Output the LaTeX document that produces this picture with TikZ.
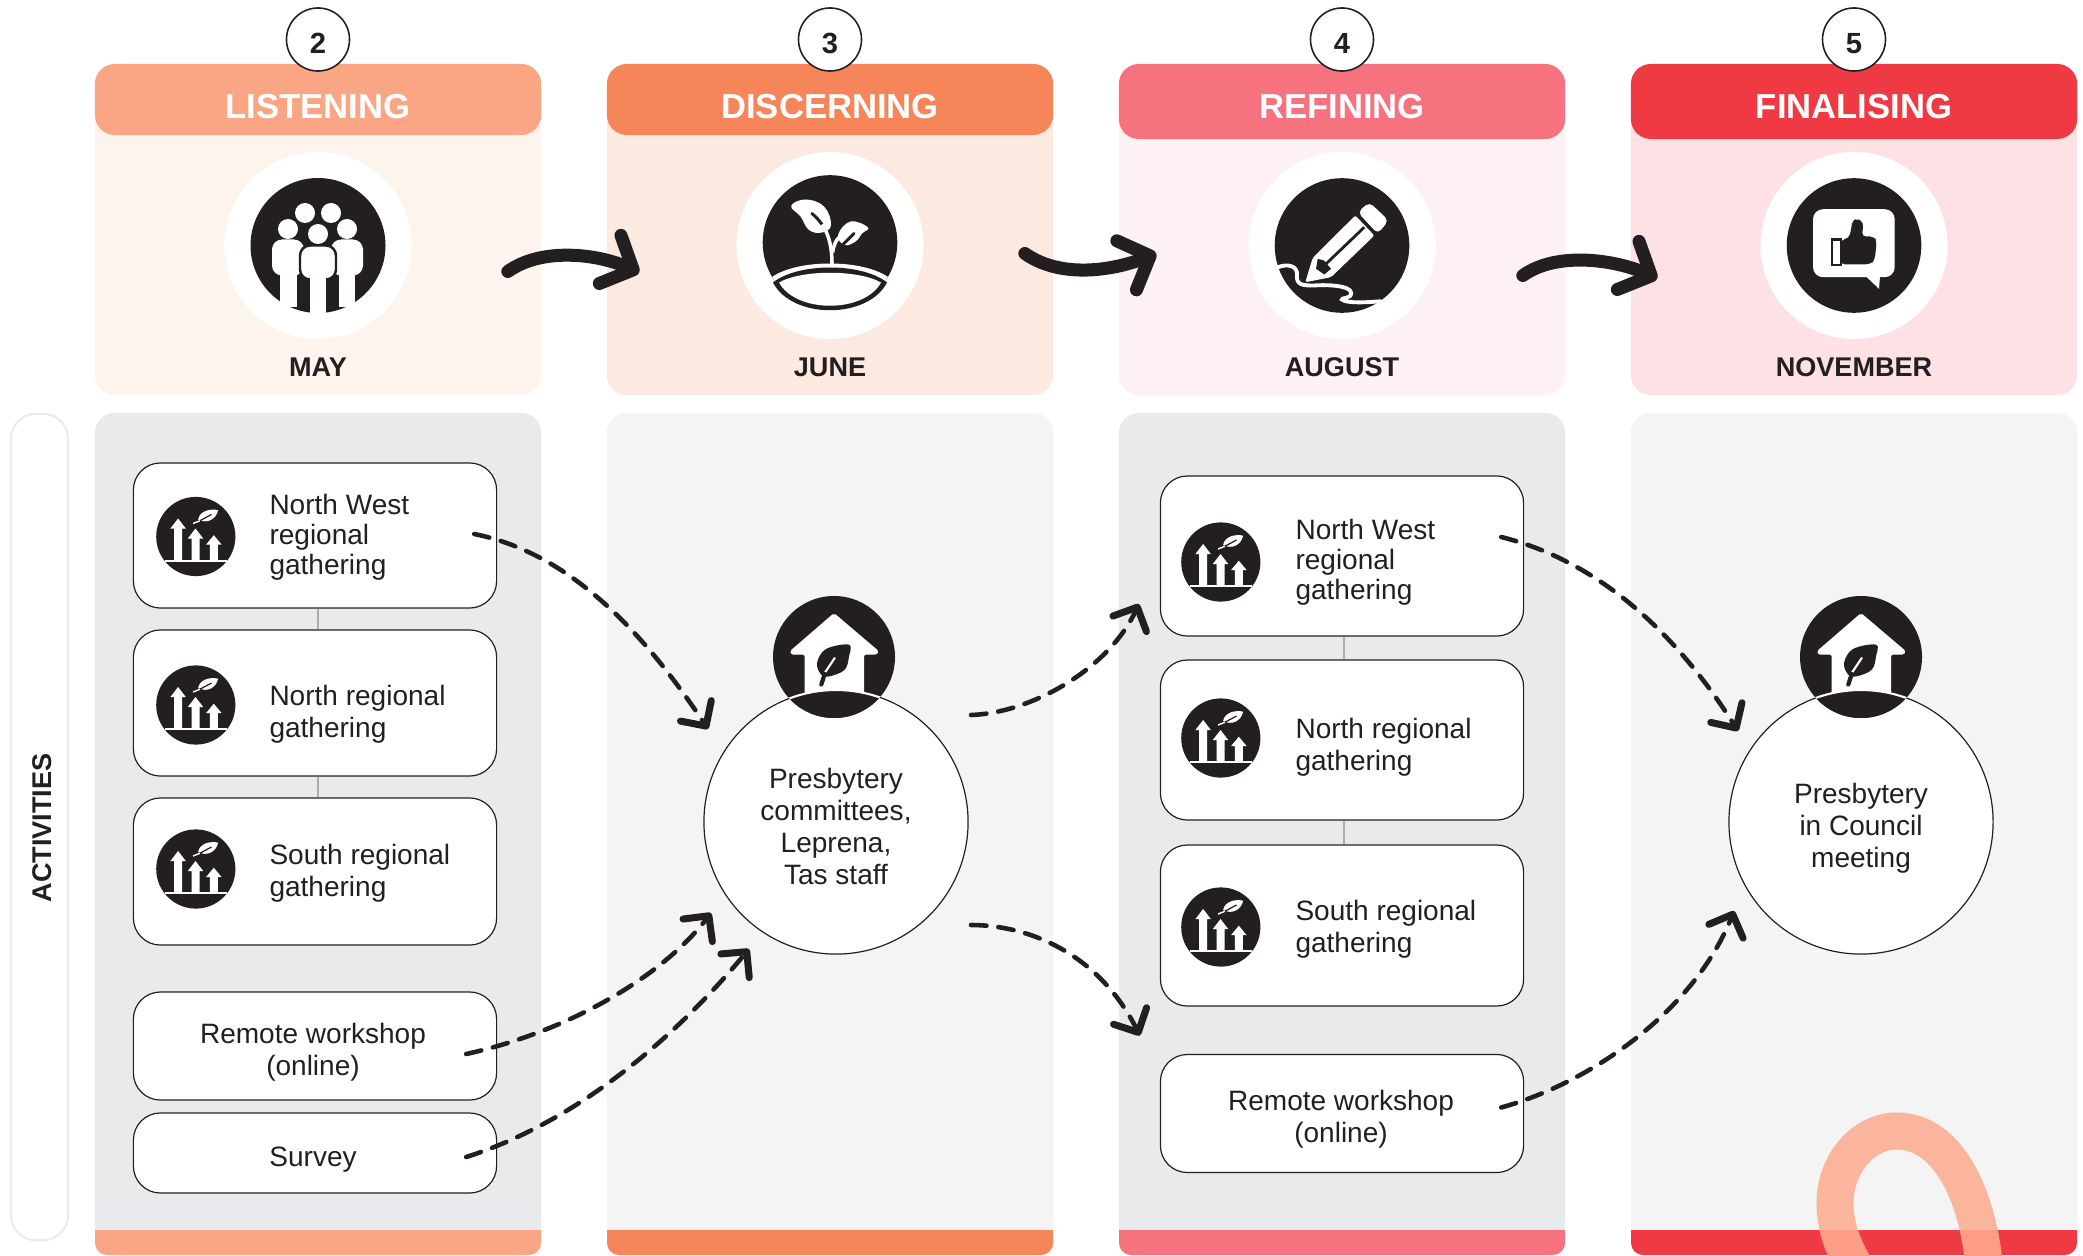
\documentclass[tikz,border=0pt]{standalone}
\usepackage{fontspec}
\setmainfont{Liberation Sans}
\usetikzlibrary{arrows.meta, calc}

\definecolor{inkblack}{HTML}{231F20}
\definecolor{headone}{HTML}{FAA685}
\definecolor{headtwo}{HTML}{F6865A}
\definecolor{headthree}{HTML}{F5727E}
\definecolor{headfour}{HTML}{EF3A44}
\definecolor{paneone}{HTML}{FEF4EE}
\definecolor{panetwo}{HTML}{FCE9DF}
\definecolor{panethree}{HTML}{FDF1F3}
\definecolor{panefour}{HTML}{FDE1E5}
\definecolor{graydark}{HTML}{E9EAEC}
\definecolor{graylight}{HTML}{F4F4F4}

\tikzset{
    panel/.style={rectangle, rounded corners=2mm, minimum width=4.46cm, inner sep=0pt},
    headtext/.style={text=white, font=\fontsize{9.85}{11}\selectfont\bfseries, inner sep=0pt},
    monthtext/.style={text=inkblack, font=\fontsize{7.7}{9}\selectfont\bfseries, inner sep=0pt},
    numcircle/.style={circle, draw=inkblack, fill=white, line width=0.45pt, minimum size=0.63cm, inner sep=0pt,
        text height=0.27cm, text depth=0pt, text=inkblack, font=\fontsize{8.3}{10}\selectfont\bfseries},
    whitedisc/.style={circle, fill=white, minimum size=1.87cm, inner sep=0pt},
    gatherbox/.style={rectangle, draw=inkblack, fill=white, line width=0.34pt, rounded corners=2.7mm,
        minimum width=3.63cm, inner sep=0pt},
    boxtext/.style={text=inkblack, align=left, anchor=west, inner sep=0pt, font=\fontsize{7.97}{9.1}\selectfont},
    tighttext/.style={boxtext, font=\fontsize{7.97}{8.55}\selectfont},
    midtext/.style={text=inkblack, align=center, inner sep=0pt, font=\fontsize{7.97}{9.1}\selectfont},
    bigcircle/.style={circle, draw=inkblack, fill=white, line width=0.34pt, minimum size=2.64cm, inner sep=0pt},
    linkline/.style={draw=black!32, line width=0.7pt},
    bigarrow/.style={draw=inkblack, line width=3.7pt, line cap=round,
        -{Straight Barb[round, length=7.2pt, width=15pt, line width=3.7pt]}},
    dasharrow/.style={draw=inkblack, line width=1.3pt, line cap=round, dash pattern=on 4.4pt off 3.4pt,
        -{Straight Barb[round, length=5.2pt, width=10.5pt, line width=2pt]}},
    pics/peopleicon/.style={code={
        \fill[inkblack] (0,0) circle (67.5);
        % heads
        \fill[white] (-13,-32.5) circle (10);
        \fill[white] (13,-32.5) circle (10);
        \fill[white] (-30,-16.5) circle (10);
        \fill[white] (29,-16.5) circle (10);
        \fill[white] (0,-11.5) circle (10);
        % outer figures
        \fill[white, rounded corners=1mm] (-46,-6) rectangle (-14,30);
        \fill[white] (-38,25) rectangle (-21,62);
        \fill[white, rounded corners=1mm] (45,-6) rectangle (13,30);
        \fill[white] (21,25) rectangle (37,62);
        % middle figure
        \filldraw[fill=white, draw=inkblack, line width=0.7pt, rounded corners=1mm] (-18,0) rectangle (18,34);
        \fill[white] (-8.5,28) rectangle (8,70);
    }},
    pics/planticon/.style={code={
        \fill[inkblack] (0,0) circle (67.3);
        % leaves and stem
        \fill[white] plot[smooth cycle, tension=0.7] coordinates {(-38.8,-36.5) (-24.5,-43) (-6,-36) (1,-17.5) (-8,-10) (-21,-12.5) (-29.5,-26)};
        \fill[white] plot[smooth cycle, tension=0.7] coordinates {(38,-15) (20.5,-21) (8,-7.5) (14.5,2.5) (25.5,-1) (32,-9)};
        \draw[inkblack, line width=0.85pt, line cap=round] (-18,-29) .. controls (-10,-22) and (-6,-16) .. (-3,-8);
        \draw[inkblack, line width=0.85pt, line cap=round] (24,-9) -- (13,2);
        \draw[white, line width=1pt] (-8,-18) .. controls (-1,-8) and (2,5) .. (2,21.5);
        \draw[white, line width=1pt] (2.5,10) .. controls (4,2) and (6,-3) .. (10,-6);
        % ground
        \begin{scope}
            \clip (0,0) circle (67.3);
            \fill[white] (-75,42) -- (-60,36) .. controls (-35,16) and (35,16) .. (60,36) -- (75,42) -- (75,80) -- (-75,80) -- cycle;
        \end{scope}
        \fill[inkblack] (-57,40) .. controls (-32,20) and (32,20) .. (57,40) .. controls (38,77) and (-38,77) .. cycle;
        \fill[white] (-51,40) .. controls (-28,27) and (28,27) .. (51,40) .. controls (34,71) and (-34,71) .. cycle;
    }},
    pics/pencilicon/.style={code={
        \fill[inkblack] (0,0) circle (67.3);
        % eraser and body
        \fill[white, rounded corners=0.5mm] (15.7,-33.3) -- (27.3,-43.3) -- (46.7,-25) -- (35.7,-11.7) -- cycle;
        \fill[white, rounded corners=0.2mm] (13.3,-30) -- (32.3,-10) -- (-11,31.7) -- (-36.7,36.7) -- (-29.3,12.3) -- cycle;
        \draw[inkblack, line width=0.8pt] (22.3,-18.3) -- (-17.7,20);
        \fill[inkblack] (-24.3,13.3) -- (-18,15) -- (-11,23.3) -- (-17.7,29) -- (-26,23.3) -- cycle;
        % scribble
        \draw[white, line width=1.1pt, line cap=round] (-64,21.7) .. controls (-55,18) and (-44,20) .. (-45,30) .. controls (-46,40) and (-38,40) .. (-28,40) .. controls (-15,39) and (8,40) .. (9,47) .. controls (10,54) and (-2,52) .. (0,54) .. controls (4,58) and (25,57) .. (39,55.7);
    }},
    pics/thumbicon/.style={code={
        \fill[inkblack] (0,0) circle (67.3);
        % bubble
        \fill[white, rounded corners=1mm] (-41,-36.3) rectangle (40.7,31.7);
        \fill[white] (11,30) -- (25,43.3) -- (26,30) -- cycle;
        % hand
        \fill[inkblack] (-22.7,-7.3) rectangle (-12.3,21);
        \fill[white] (-20.7,-4) rectangle (-14.5,18.7);
        \fill[inkblack, rounded corners=0.4mm] (-13,-5.7) -- (-5,-7.3) -- (-2.3,-19) -- (-2,-25) -- (2.7,-26.5) -- (8,-25) -- (9.3,-19) -- (7.7,-9) -- (20,-9) -- (22.7,-4) -- (20.7,14.3) -- (16.7,18.7) -- (-13,19) -- cycle;
    }},
    pics/growthicon/.style={code={
        \fill[inkblack] (0,0) circle (39.6);
        \draw[white, line width=0.6pt] (-31,24.3) -- (31,24.3);
        % three arrows
        \fill[white] (-17.7,-18) -- (-10,-8) -- (-13.7,-8) -- (-13.7,24) -- (-21.7,24) -- (-21.7,-8) -- (-25.4,-8) -- cycle;
        \fill[white] (-0.3,-8) -- (7.4,2) -- (3.7,2) -- (3.7,24) -- (-4.3,24) -- (-4.3,2) -- (-8,2) -- cycle;
        \fill[white] (18,-1.3) -- (25.7,8) -- (22,8) -- (22,24) -- (14,24) -- (14,8) -- (10.3,8) -- cycle;
        % leaf
        \fill[white] (2.3,-17) .. controls (4,-26.3) and (15.7,-28) .. (22.3,-26.3) .. controls (20.7,-18) and (12,-12) .. cycle;
        \draw[inkblack, line width=0.35pt] (4,-15.7) -- (15.7,-22);
        \draw[white, line width=0.4pt] (-2.7,-13) -- (4,-15.7);
    }},
    pics/houseicon/.style={code={
        \fill[inkblack] (0,0) circle (61);
        % house and leaf
        \fill[white, rounded corners=0.2mm] (0,-44) -- (45,-5.7) -- (43,-2.3) -- (30,-2.3) -- (30,45) -- (-29.3,45) -- (-29.3,-2.3) -- (-43,-2.3) -- (-44.3,-5.7) -- cycle;
        \fill[inkblack] plot[smooth cycle, tension=0.6] coordinates {(15,-12.3) (-8,-8) (-17,6) (-12.7,17.7) (-4.3,19.3) (10.7,12.7) (15,-0.7)};
        \draw[white, line width=0.6pt, line cap=round] (0.7,1) -- (-9.3,16);
        \draw[inkblack, line width=1.2pt, line cap=round] (-9.3,17) -- (-12.7,27.5);
        % part of the disc inside the big circle
        \begin{scope}
            \clip (0,0) circle (61);
            \fill[inkblack] (#1,165) circle (132);
            \draw[white, line width=0.6pt] (#1,165) circle (132);
        \end{scope}
    }},
}

\begin{document}
\begin{tikzpicture}[x=0.01cm, y=-0.01cm]
    \useasboundingbox (0,0) rectangle (2083,1255);

    % Top panels
    \node[panel, fill=paneone, minimum height=3.31cm] (listenpanel) at (318,229.5) {};
    \node[panel, fill=panetwo, minimum height=3.31cm] (discernpanel) at (830,229.5) {};
    \node[panel, fill=panethree, minimum height=3.31cm] (refinepanel) at (1342,229.5) {};
    \node[panel, fill=panefour, minimum height=3.31cm] (finalpanel) at (1854,229.5) {};

    % Headers
    \node[panel, fill=headone, minimum height=0.71cm] (listenhead) at (318,99.5) {};
    \node[panel, fill=headtwo, minimum height=0.71cm] (discernhead) at (830,99.5) {};
    \node[panel, fill=headthree, minimum height=0.75cm] (refinehead) at (1342,101.5) {};
    \node[panel, fill=headfour, minimum height=0.75cm] (finalhead) at (1854,101.5) {};
    \node[headtext] (listentext) at ([shift={(0,7)}]listenhead.center) {LISTENING};
    \node[headtext] (discerntext) at ([shift={(0,7)}]discernhead.center) {DISCERNING};
    \node[headtext] (refinetext) at ([shift={(0,5)}]refinehead.center) {REFINING};
    \node[headtext] (finaltext) at ([shift={(0,5)}]finalhead.center) {FINALISING};

    % Step numbers
    \node[numcircle] (numtwo) at (318,39.5) {2};
    \node[numcircle] (numthree) at (830,39.5) {3};
    \node[numcircle] (numfour) at (1342,39.5) {4};
    \node[numcircle] (numfive) at (1854,39.5) {5};

    % Icon discs
    \node[whitedisc] (listendisc) at (318,245.5) {};
    \node[whitedisc] (discerndisc) at (830,245.5) {};
    \node[whitedisc] (refinedisc) at (1342,245.5) {};
    \node[whitedisc] (finaldisc) at (1854,245.5) {};
    \pic at (listendisc.center) {peopleicon};
    \pic at ([shift={(0,-3)}]discerndisc.center) {planticon};
    \pic at (refinedisc.center) {pencilicon};
    \pic at (finaldisc.center) {thumbicon};

    % Months
    \node[monthtext] (maytext) at (318,367) {MAY};
    \node[monthtext] (junetext) at (830,367) {JUNE};
    \node[monthtext] (augusttext) at (1342,367) {AUGUST};
    \node[monthtext] (novembertext) at (1854,367) {NOVEMBER};

    % Thick arrows between the panels
    \draw[bigarrow] ([shift={(-34,42)}]listenpanel.east) .. controls +(35,-25) and +(-40,-18) .. ([shift={(33,43)}]discernpanel.west);
    \draw[bigarrow] ([shift={(-29,24)}]discernpanel.east) .. controls +(40,28) and +(-35,14) .. ([shift={(38,24)}]refinepanel.west);
    \draw[bigarrow] ([shift={(-43,46)}]refinepanel.east) .. controls +(35,-25) and +(-40,-18) .. ([shift={(27,49)}]finalpanel.west);

    % Activity side label
    \node[rectangle, draw=black!8, fill=white, line width=0.6pt, rounded corners=2.5mm, minimum width=0.57cm, minimum height=8.26cm, inner sep=0pt] (sidebox) at (39.5,827) {};
    \node[rotate=90, text=inkblack, inner sep=0pt, font=\fontsize{7.7}{9}\selectfont\bfseries] (sidetext) at (42,828) {ACTIVITIES};

    % Lower panels
    \node[panel, fill=graydark, minimum height=8.42cm] (listenlow) at (318,834) {};
    \node[panel, fill=graylight, minimum height=8.42cm] (discernlow) at (830,834) {};
    \node[panel, fill=graydark, minimum height=8.42cm] (refinelow) at (1342,834) {};
    \node[panel, fill=graylight, minimum height=8.42cm] (finallow) at (1854,834) {};

    % Coloured bars
    \fill[headone] (95,1230) [rounded corners=1.2mm] -- (95,1255) -- (541,1255) [sharp corners] -- (541,1230) -- cycle;
    \fill[headtwo] (607,1230) [rounded corners=1.2mm] -- (607,1255) -- (1053,1255) [sharp corners] -- (1053,1230) -- cycle;
    \fill[headthree] (1119,1230) [rounded corners=1.2mm] -- (1119,1255) -- (1565,1255) [sharp corners] -- (1565,1230) -- cycle;
    \fill[headfour] (1631,1230) [rounded corners=1.2mm] -- (1631,1255) -- (2077,1255) [sharp corners] -- (2077,1230) -- cycle;

    % Loop in the corner
    \draw[color={rgb,255:red,250;green,181;blue,156}, line width=0.37cm] (1872,1290) .. controls (1846,1260) and (1835,1230) .. (1835,1203) .. controls (1835,1165) and (1862,1131) .. (1897,1131) .. controls (1955,1131) and (1985,1215) .. (1985,1290);
    \begin{scope}
        \clip (1631,1230) rectangle (2077,1255);
        \draw[color={rgb,255:red,255;green,158;blue,133}, line width=0.37cm] (1872,1290) .. controls (1846,1260) and (1835,1230) .. (1835,1203) .. controls (1835,1165) and (1862,1131) .. (1897,1131) .. controls (1955,1131) and (1985,1215) .. (1985,1290);
    \end{scope}

    % Gatherings, first column
    \node[gatherbox, minimum height=1.45cm] (nwone) at (315,535.5) {};
    \node[gatherbox, minimum height=1.46cm] (northone) at (315,703) {};
    \node[gatherbox, minimum height=1.47cm] (southone) at (315,871.5) {};
    \node[gatherbox, minimum height=1.08cm] (remoteone) at (315,1046) {};
    \node[gatherbox, minimum height=0.80cm] (surveyone) at (315,1153) {};
    \draw[linkline] ([shift={(3,0)}]nwone.south) -- ([shift={(3,0)}]northone.north);
    \draw[linkline] ([shift={(3,0)}]northone.south) -- ([shift={(3,0)}]southone.north);
    \pic at ([shift={(63,1)}]nwone.west) {growthicon};
    \pic at ([shift={(63,2)}]northone.west) {growthicon};
    \pic at ([shift={(63,-2.5)}]southone.west) {growthicon};
    \node[tighttext] (nwonetext) at ([shift={(136,2)}]nwone.west) {North West\\regional\\gathering};
    \node[boxtext] (northonetext) at ([shift={(136,11)}]northone.west) {North regional\\gathering};
    \node[boxtext] (southonetext) at ([shift={(136,1.5)}]southone.west) {South regional\\gathering};
    \node[midtext] (remoteonetext) at ([shift={(-2,6)}]remoteone.center) {Remote workshop\\(online)};
    \node[midtext] (surveyonetext) at ([shift={(-2,6.5)}]surveyone.center) {Survey};

    % Gatherings, third column
    \node[gatherbox, minimum height=1.60cm] (nwthree) at (1342,556) {};
    \node[gatherbox, minimum height=1.60cm] (norththree) at (1342,740) {};
    \node[gatherbox, minimum height=1.61cm] (souththree) at (1342,925.5) {};
    \node[gatherbox, minimum height=1.18cm] (remotethree) at (1342,1113.5) {};
    \draw[linkline] ([shift={(2,0)}]nwthree.south) -- ([shift={(2,0)}]norththree.north);
    \draw[linkline] ([shift={(2,0)}]norththree.south) -- ([shift={(2,0)}]souththree.north);
    \pic at ([shift={(61,6)}]nwthree.west) {growthicon};
    \pic at ([shift={(61,-2)}]norththree.west) {growthicon};
    \pic at ([shift={(61,1.5)}]souththree.west) {growthicon};
    \node[tighttext] (nwthreetext) at ([shift={(135,6.5)}]nwthree.west) {North West\\regional\\gathering};
    \node[boxtext] (norththreetext) at ([shift={(135,7.5)}]norththree.west) {North regional\\gathering};
    \node[boxtext] (souththreetext) at ([shift={(135,3.5)}]souththree.west) {South regional\\gathering};
    \node[midtext] (remotethreetext) at ([shift={(-1,5.5)}]remotethree.center) {Remote workshop\\(online)};

    % Big circles
    \node[bigcircle] (committees) at (836,822) {};
    \node[midtext] (committeestext) at (836,826) {Presbytery\\committees,\\Leprena,\\Tas staff};
    \pic at ([shift={(-2,-165)}]committees.center) {houseicon=2};
    \node[bigcircle] (council) at (1861,822) {};
    \node[midtext] (counciltext) at (1861,828.5) {Presbytery\\in Council\\meeting};
    \pic at ([shift={(0,-165)}]council.center) {houseicon=0};

    % Dashed arrows
    \draw[dasharrow] ([shift={(-23,-1.5)}]nwone.east) .. controls +(100,20) and +(-60,-90) .. ([shift={(-128,-93)}]committees.center);
    \draw[dasharrow] ([shift={(-31,8)}]remoteone.east) .. controls +(100,-22) and +(-50,65) .. ([shift={(-125,91)}]committees.center);
    \draw[dasharrow] ([shift={(-31,4)}]surveyone.east) .. controls +(110,-35) and +(-75,90) .. ([shift={(-87,127)}]committees.center);
    \draw[dasharrow] ([shift={(135,-107)}]committees.center) .. controls +(60,-2) and +(-30,65) .. ([shift={(-21,48)}]nwthree.west);
    \draw[dasharrow] ([shift={(135,103)}]committees.center) .. controls +(60,0) and +(-40,-80) .. ([shift={(-20,-78)}]remotethree.west);
    \draw[dasharrow] ([shift={(-23,-19)}]nwthree.east) .. controls +(100,25) and +(-60,-95) .. ([shift={(-123,-91)}]council.center);
    \draw[dasharrow] ([shift={(-23,-6)}]remotethree.east) .. controls +(90,-25) and +(-40,100) .. ([shift={(-127,89)}]council.center);
\end{tikzpicture}
\end{document}
